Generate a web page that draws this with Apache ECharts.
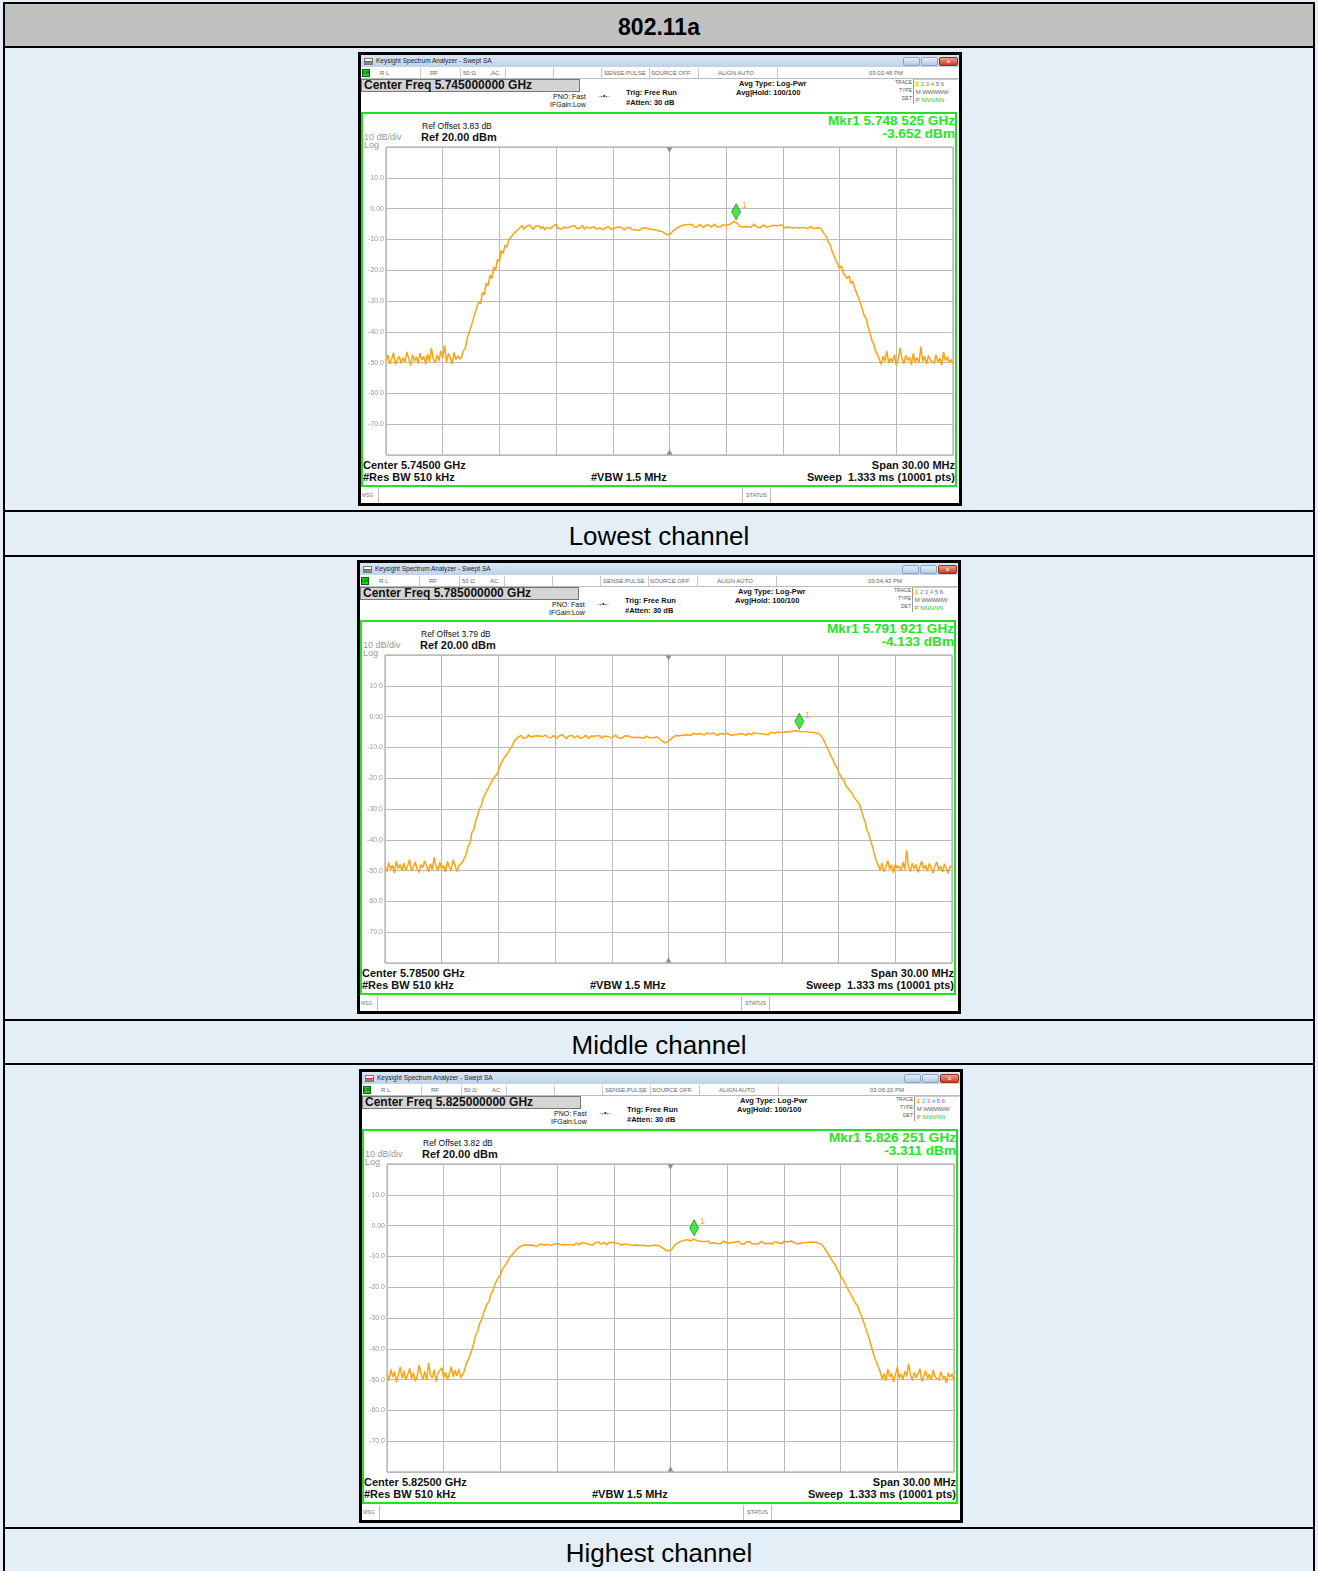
<!DOCTYPE html>
<html><head><meta charset="utf-8">
<script src="https://cdn.jsdelivr.net/npm/echarts@6/dist/echarts.min.js"></script>
<style>
html,body{margin:0;padding:0;}
body{width:1318px;height:1571px;position:relative;overflow:hidden;background:#e3eef6;font-family:"Liberation Sans",Arial,sans-serif;color:#000;}
.a{position:absolute;white-space:nowrap;box-sizing:border-box;}
</style></head><body>
<script>
// ---------------- data ----------------
const headerTitle = '802.11a';
const captions = ['Lowest channel', 'Middle channel', 'Highest channel'];
const centerFreqText = ['5.745000000', '5.785000000', '5.825000000'];
const centerShortText = ['5.74500', '5.78500', '5.82500'];
const clockText = ['03:02:48 PM', '03:04:43 PM', '03:06:20 PM'];
const refOffsetText = ['3.83', '3.79', '3.82'];
const markerFreqText = ['5.748 525', '5.791 921', '5.826 251'];
const markerLevel = [-3.652, -4.133, -3.311];
const markerOffsetMHz = [3.525, 6.921, 1.251];
const SWEEP_START_MHZ = -15, SWEEP_STEP_MHZ = 0.1; // offset from center; 301 displayed sweep points

const traceLowest = [
-49.3,-47.6,-50.4,-48.9,-46.8,-50.7,-49.1,-47.9,-50.2,-48.4,
-49.8,-46.5,-48.7,-50.9,-47.4,-49.5,-48.1,-50.3,-46.9,-49.2,
-48.0,-50.6,-47.2,-49.7,-45.3,-48.8,-50.1,-47.5,-49.4,-46.2,
-48.6,-44.4,-49.9,-47.0,-48.3,-50.5,-46.7,-49.0,-47.8,-48.9,
-48.2,-46.1,-45.3,-42.0,-41.6,-38.4,-37.9,-34.1,-33.5,-30.2,
-30.9,-27.3,-28.0,-24.2,-25.1,-21.6,-22.8,-19.0,-19.9,-16.4,
-17.2,-13.6,-14.5,-11.8,-12.6,-10.1,-10.7,-8.6,-9.1,-7.2,-6.9,
-6.2,-5.5,-6.7,-5.9,-6.4,-5.3,-6.1,-6.8,-5.7,-6.3,
-5.6,-6.5,-5.8,-6.9,-6.0,-5.4,-6.6,-5.9,-6.2,-5.1,
-6.4,-5.8,-6.7,-6.0,-5.5,-6.3,-6.9,-5.7,-6.1,-5.6,
-6.5,-5.9,-6.2,-5.4,-6.8,-6.0,-5.7,-6.4,-6.1,-5.8,
-6.6,-6.0,-6.3,-5.7,-6.9,-6.2,-6.5,-5.9,-6.7,-6.1,
-6.4,-6.8,-6.0,-6.5,-6.2,-7.0,-6.3,-6.6,-6.1,-6.8,
-6.5,-6.9,-6.3,-7.1,-6.6,-6.2,-6.8,-6.4,-7.0,-6.7,
-6.5,-6.9,-6.6,-7.2,-6.8,
-7.4,-7.8,-8.3,-8.0,-8.5,-7.9,-7.2,-6.9,-6.3,-6.0,-5.6,-5.9,-5.3,-5.7,-5.2,
-5.8,-5.2,-6.0,-5.5,-5.9,-5.1,-5.7,-6.2,-5.4,-5.8,
-5.3,-6.1,-5.6,-5.0,-5.9,-5.4,-6.0,-5.2,-5.7,-5.5,
-5.9,-5.1,-5.6,-4.2,-3.9,-4.8,-5.7,-5.3,-6.0,-5.5,
-5.8,-5.2,-6.1,-5.6,-5.0,-5.9,-5.4,-6.2,-5.7,-5.3,
-6.0,-5.5,-5.8,-6.3,-5.4,-5.9,-5.6,-6.1,-5.2,-5.8,
-6.2,-5.7,-6.0,-5.5,-6.4,-5.8,-6.1,-5.6,-6.3,-5.9,
-6.1,-5.7,-6.4,-6.0,-5.8,-6.5,-6.1,-6.3,-6.6,
-6.4,-7.0,-8.3,-9.1,-10.9,-11.6,-13.8,-14.4,-16.7,-17.1,
-19.4,-18.6,-21.0,-20.5,-22.7,-21.9,-24.3,-23.6,-25.8,-26.4,
-28.9,-30.7,-32.5,-34.8,-35.6,-38.3,-40.1,-42.6,-43.9,-46.2,-47.5,
-48.8,-50.6,-47.9,-49.5,-46.3,-50.2,-48.5,-49.9,-47.4,-50.8,
-49.1,-45.2,-48.7,-50.4,-47.6,-49.3,-48.2,-50.7,-46.9,-49.8,
-48.4,-50.1,-44.8,-49.6,-48.0,-50.5,-47.7,-49.2,-48.9,-50.3,
-47.5,-49.7,-48.6,-50.9,-46.6,-49.4,-48.1,-50.0,-49.0,-50.4
];
const traceMiddle = [
-48.7,-50.3,-47.4,-49.6,-48.2,-50.8,-46.9,-49.3,-48.0,-50.1,
-47.6,-49.8,-48.5,-46.4,-50.2,-48.9,-47.2,-49.5,-50.6,-48.1,
-49.0,-46.8,-48.4,-50.4,-47.8,-49.7,-45.7,-48.6,-50.0,-47.3,
-49.4,-48.3,-50.5,-47.0,-48.8,-49.9,-46.6,-48.2,-50.3,-48.5,
-49.0,-47.3,-45.9,-44.6,-42.1,-41.0,-37.6,-36.8,-33.9,-32.2,
-29.8,-28.9,-26.4,-26.9,-24.0,-23.4,-21.7,-22.3,-19.6,-18.8,
-17.9,-15.7,-16.2,-13.4,-13.9,-11.8,-10.6,-9.9,-8.4,-7.6,-6.9,
-6.7,-6.1,-7.0,-6.4,-6.8,-5.9,-6.6,-7.2,-6.3,-6.9,
-6.2,-6.8,-6.5,-7.1,-6.0,-6.7,-6.4,-6.9,-6.1,-6.6,
-7.0,-6.3,-6.8,-5.9,-6.5,-7.2,-6.4,-6.7,-6.1,-6.9,
-6.6,-6.2,-7.0,-6.5,-6.8,-6.0,-6.6,-7.1,-6.3,-6.7,
-6.4,-6.9,-6.1,-6.6,-7.0,-6.3,-6.8,-6.5,-6.2,-6.9,
-6.6,-6.0,-6.7,-6.4,-7.1,-6.5,-6.2,-6.8,-6.3,-6.6,
-6.9,-6.4,-6.7,-6.1,-6.8,-6.5,-7.0,-6.3,-6.6,-6.9,
-6.5,-6.8,-7.0,-6.6,-7.2,
-7.6,-8.1,-8.6,-8.3,-8.0,-7.4,-6.9,-6.4,-6.1,-5.8,-6.2,-5.7,-6.0,-5.5,-5.9,
-5.6,-6.1,-5.4,-5.9,-5.7,-6.2,-5.5,-5.8,-6.0,-5.3,
-5.9,-5.6,-6.1,-5.4,-5.8,-6.2,-5.5,-5.9,-5.7,-6.0,
-5.4,-5.8,-6.1,-5.6,-5.9,-5.3,-5.7,-6.0,-5.5,-5.8,
-6.1,-5.4,-5.7,-5.9,-5.2,-5.8,-5.5,-6.0,-5.6,-5.3,
-5.7,-5.4,-5.9,-5.1,-5.6,-5.3,-5.8,-5.0,-5.5,-5.2,
-5.6,-4.9,-5.3,-5.0,-5.4,-4.7,-5.1,-4.6,-4.3,-4.9,
-5.2,-4.8,-5.4,-5.0,-5.5,-5.1,-5.6,-5.3,-5.8,
-5.7,-6.2,-7.4,-8.8,-10.1,-11.4,-12.9,-14.0,-15.6,-16.3,
-18.1,-18.7,-20.2,-20.9,-22.5,-22.0,-24.1,-24.8,-26.0,-25.6,
-27.7,-28.4,-30.1,-32.6,-34.0,-36.9,-38.2,-40.5,-42.3,-44.8,-46.9,
-48.3,-49.9,-47.5,-50.4,-48.8,-46.7,-49.6,-48.1,-50.7,-47.9,
-49.2,-48.5,-50.1,-47.3,-49.7,-43.4,-48.9,-50.3,-47.6,-49.4,
-48.0,-50.6,-48.7,-46.9,-49.5,-48.2,-50.2,-47.7,-49.1,-50.8,
-48.4,-47.2,-49.8,-48.6,-50.5,-47.8,-49.3,-50.9,-48.5,-49.0
];
const traceHighest = [
-48.0,-50.3,-46.7,-49.2,-47.4,-50.8,-48.5,-45.9,-49.6,-47.1,
-50.1,-48.3,-46.4,-49.7,-47.8,-50.5,-48.9,-45.2,-48.1,-49.9,
-47.3,-50.2,-44.6,-48.7,-49.4,-46.8,-50.6,-47.9,-48.4,-46.1,
-49.5,-47.6,-50.0,-48.2,-45.8,-49.1,-47.0,-48.8,-46.5,-49.3,
-48.5,-47.0,-44.6,-43.5,-41.9,-40.2,-38.1,-35.4,-34.3,-31.8,
-30.6,-28.5,-27.9,-25.4,-24.6,-22.1,-21.3,-19.2,-18.6,-16.7,
-16.0,-14.3,-13.8,-12.5,-11.3,-10.7,-9.6,-9.0,-8.2,-7.5,-7.0,
-6.6,-6.9,-6.2,-6.7,-6.4,-7.0,-6.3,-6.1,-6.8,-6.5,
-6.0,-6.6,-6.3,-6.8,-6.1,-5.9,-6.5,-6.2,-5.8,-6.4,
-6.0,-5.7,-6.3,-5.9,-6.2,-5.6,-6.1,-5.8,-6.4,-5.7,
-5.9,-6.2,-5.5,-6.0,-5.8,-5.4,-6.1,-5.7,-6.3,-5.6,
-5.9,-5.3,-6.0,-5.7,-5.5,-6.2,-5.8,-5.4,-6.0,-5.6,
-6.1,-5.7,-5.9,-6.3,-5.8,-6.0,-5.5,-6.2,-5.9,-6.4,
-6.0,-6.3,-5.8,-6.5,-6.1,-6.4,-6.0,-6.6,-6.2,-6.5,
-6.7,-6.3,-6.8,-6.6,-7.0,
-7.3,-7.8,-8.2,-8.6,-8.1,-7.4,-6.6,-5.9,-5.5,-5.2,-5.0,-4.8,-5.3,-4.6,-5.1,
-5.0,-4.3,-4.0,-4.9,-5.4,-5.1,-5.7,-5.2,-5.5,-5.0,
-5.8,-5.3,-5.6,-5.1,-5.9,-5.4,-5.7,-5.0,-5.5,-5.8,
-5.2,-5.6,-6.0,-5.4,-5.7,-5.1,-5.8,-5.5,-6.1,-5.3,
-5.7,-5.2,-5.9,-5.5,-6.0,-5.4,-5.8,-5.1,-5.6,-5.9,
-5.3,-5.7,-5.5,-6.0,-5.2,-5.8,-5.6,-5.4,-5.9,-5.1,
-5.6,-5.3,-5.8,-5.0,-5.5,-5.7,-5.2,-5.9,-5.4,-5.6,
-5.1,-5.5,-5.8,-5.3,-5.7,-5.4,-5.9,-5.6,-5.8,
-6.1,-6.9,-7.8,-8.4,-9.7,-10.3,-11.9,-12.6,-14.1,-14.9,
-16.4,-17.2,-18.3,-19.6,-20.8,-21.4,-23.0,-24.1,-25.3,-26.0,
-27.9,-29.2,-31.0,-32.8,-34.7,-36.5,-38.6,-40.8,-42.9,-44.3,-46.0,
-47.5,-49.8,-48.1,-50.4,-46.6,-49.2,-47.9,-50.7,-48.4,-46.0,
-49.5,-48.2,-50.1,-47.3,-49.0,-44.9,-48.6,-50.3,-47.7,-49.4,
-48.0,-46.4,-50.6,-48.8,-47.1,-49.7,-48.3,-50.0,-46.9,-49.1,
-48.5,-50.2,-47.4,-49.6,-48.9,-51.0,-47.8,-49.3,-48.2,-50.5
];
const traces = [traceLowest, traceMiddle, traceHighest];

// ---------------- layout ----------------
function box(parent, x, y, w, h, css, text) {
  const d = document.createElement('div');
  d.className = 'a';
  d.style.left = x + 'px'; d.style.top = y + 'px';
  if (w != null) d.style.width = w + 'px';
  if (h != null) d.style.height = h + 'px';
  if (css) d.style.cssText += css;
  if (text != null) d.textContent = text;
  parent.appendChild(d);
  return d;
}
const B = document.body;
// table
box(B, 3, 2, 1312, 46, 'background:#c0c0c0;border:2px solid #000;font-weight:bold;font-size:23px;text-align:center;line-height:47px;', headerTitle);
box(B, 3, 47, 2, 1530, 'background:#000;');
box(B, 1313, 47, 2, 1530, 'background:#000;');
[510, 555, 1019, 1063, 1527].forEach(y => box(B, 3, y, 1312, 2, 'background:#000;'));
const capTops = [512, 1021, 1529];
captions.forEach((c, i) => box(B, 5, capTops[i], 1308, 44, 'text-align:center;font-size:26px;line-height:48px;', c));

const origins = [[358, 52], [357, 560], [359, 1069]];
const S = 'font-family:"Liberation Sans",Arial,sans-serif;';

function buildPanel(i) {
  const [ox, oy] = origins[i];
  const P = box(B, ox, oy, 604, 454, 'background:#fff;overflow:hidden;');
  // title bar
  box(P, 3, 3, 598, 12, 'background:linear-gradient(#dbe6f3,#bfd2e8);');
  box(P, 6, 6, 9, 7, 'background:linear-gradient(#fff 0,#fff 40%,#d33 40%,#d33 70%,#888 70%);border:1px solid #777;');
  box(P, 18, 3, 300, 12, S + 'font-size:6.5px;line-height:12px;color:#223;', 'Keysight Spectrum Analyzer - Swept SA');
  box(P, 545, 5, 17, 9, 'background:linear-gradient(#e6eef8,#b7c9e2);border:1px solid #8ea3c2;border-radius:2px;');
  box(P, 563, 5, 17, 9, 'background:linear-gradient(#e6eef8,#b7c9e2);border:1px solid #8ea3c2;border-radius:2px;');
  box(P, 581, 5, 19, 9, 'background:linear-gradient(#eea08a,#c83a22);border:1px solid #8a3020;border-radius:2px;color:#fff;font-size:7px;line-height:7px;text-align:center;', '×');
  // status row
  box(P, 3, 15, 598, 12, 'background:#fff;border-bottom:1px solid #bbb;');
  box(P, 4, 17, 8, 8, 'background:#1fd21f;border:1px solid #060;font-size:4px;line-height:6px;text-align:center;', 'LXI');
  [62, 102, 147, 195, 243, 291, 340, 419].forEach(x => box(P, x, 16, 1, 10, 'background:#c8c8c8;'));
  const st = S + 'font-size:6px;line-height:10px;color:#666;';
  [[22, 'R L'], [72, 'RF'], [105, '50 Ω'], [133, 'AC'], [246, 'SENSE:PULSE'], [293, 'SOURCE OFF'], [360, 'ALIGN AUTO'], [511, clockText[i]]]
    .forEach(([x, t]) => box(P, x, 16, null, 10, st, t));
  // center freq box
  box(P, 3, 27, 219, 13, 'background:#d4d4d4;border:1px solid #777;' + S + 'font-weight:bold;font-size:12px;line-height:11px;padding-left:2px;color:#111;', 'Center Freq ' + centerFreqText[i] + ' GHz');
  const sm = S + 'font-size:7px;line-height:8px;color:#111;';
  box(P, 195, 41, null, 8, sm, 'PNO: Fast');
  box(P, 192, 49, null, 8, sm, 'IFGain:Low');
  box(P, 239, 40, null, 8, sm + 'letter-spacing:-1px;', '→•←');
  const smb = S + 'font-size:7.5px;line-height:9px;font-weight:bold;color:#111;';
  box(P, 268, 36, null, 9, smb, 'Trig: Free Run');
  box(P, 268, 46, null, 9, smb, '#Atten: 30 dB');
  box(P, 381, 27, null, 9, smb, 'Avg Type: Log-Pwr');
  box(P, 378, 36, null, 9, smb, 'Avg|Hold: 100/100');
  const tr = S + 'font-size:5px;line-height:8px;color:#555;text-align:right;';
  box(P, 520, 26, 34, 8, tr, 'TRACE');
  box(P, 520, 34, 34, 8, tr, 'TYPE');
  box(P, 520, 42, 34, 8, tr, 'DET');
  const tb = box(P, 555, 27, 45, 25, 'border-left:1px solid #999;border-top:1px solid #ccc;' + S + 'font-size:6px;line-height:8px;');
  tb.innerHTML = '<span style="background:#fff6a0;color:#f39a00">&nbsp;1</span> <span style="color:#00c0d0">2</span> <span style="color:#e040e0">3</span> <span style="color:#30c030">4</span> <span style="color:#4a6bff">5</span> <span style="color:#a040f0">6</span><br>' +
    '<span style="color:#666">&nbsp;M <span style="letter-spacing:-0.5px">WWWWW</span></span><br><span style="color:#777">&nbsp;P</span> <span style="color:#22c022;letter-spacing:0.3px">NNNNN</span>';
  // green frame
  box(P, 3, 60, 596, 375, 'border:2px solid #22e022;');
  box(P, 64, 69, null, 10, S + 'font-size:8.5px;line-height:10px;color:#111;', 'Ref Offset ' + refOffsetText[i] + ' dB');
  box(P, 63, 79, null, 12, S + 'font-size:11px;line-height:12px;font-weight:bold;color:#111;', 'Ref 20.00 dBm');
  box(P, 6, 80, null, 10, S + 'font-size:9px;line-height:10px;color:#999;', '10 dB/div');
  box(P, 6, 88, null, 10, S + 'font-size:9px;line-height:10px;color:#999;', 'Log');
  const mk = S + 'font-size:13.6px;line-height:13px;font-weight:bold;color:#22e622;text-align:right;';
  box(P, 360, 62, 237, 13, mk, 'Mkr1 ' + markerFreqText[i] + ' GHz');
  box(P, 360, 75, 237, 13, mk, markerLevel[i].toFixed(3) + ' dBm');
  // bottom annotations
  const bt = S + 'font-size:11px;line-height:12px;font-weight:bold;color:#111;';
  box(P, 5, 407, null, 12, bt, 'Center ' + centerShortText[i] + ' GHz');
  box(P, 5, 419, null, 12, bt, '#Res BW 510 kHz');
  box(P, 233, 419, null, 12, bt, '#VBW 1.5 MHz');
  box(P, 380, 407, 217, 12, bt + 'text-align:right;', 'Span 30.00 MHz');
  box(P, 380, 419, 217, 12, bt + 'text-align:right;white-space:pre;', 'Sweep  1.333 ms (10001 pts)');
  // msg bar
  box(P, 3, 435, 598, 16, 'background:#fff;');
  box(P, 3, 436, 18, 15, 'border-right:1px solid #bbb;' + S + 'font-size:5px;line-height:15px;color:#777;padding-left:1px;', 'MSG');
  box(P, 384, 436, 29, 15, 'border-left:1px solid #bbb;border-right:1px solid #bbb;' + S + 'font-size:5.5px;line-height:15px;color:#666;text-align:center;', 'STATUS');
  // chart
  const cd = box(P, 6, 88, 594, 322, 'z-index:2;');
  // outer black frame
  box(P, 0, 0, 604, 454, 'border:3px solid #000;z-index:5;pointer-events:none;');
  return cd;
}

function makeOption(trace, mkX, mkY) {
  const pts = trace.map((v, k) => [SWEEP_START_MHZ + k * SWEEP_STEP_MHZ, v]);
  const gridLine = { show: true, lineStyle: { color: '#bababa', width: 1 } };
  return {
    animation: false,
    grid: { left: 22, top: 7, width: 567, height: 308, show: true, borderColor: '#9c9c9c', borderWidth: 1, backgroundColor: 'transparent' },
    xAxis: { type: 'value', min: -15, max: 15, interval: 3, axisLine: { show: false }, axisTick: { show: false }, axisLabel: { show: false }, splitLine: gridLine },
    yAxis: {
      type: 'value', min: -80, max: 20, interval: 10,
      axisLine: { show: false }, axisTick: { show: false }, splitLine: gridLine,
      axisLabel: { show: true, showMinLabel: false, showMaxLabel: false, margin: 2, color: '#9a9a9a', fontSize: 7, fontFamily: 'Liberation Sans',
        formatter: v => (v === 0 ? '0.00' : v.toFixed(1)) }
    },
    series: [
      { type: 'line', data: pts, symbol: 'none', showSymbol: false, lineStyle: { color: '#ffa20f', width: 1.5 }, z: 3, silent: true },
      { type: 'scatter', data: [[mkX, mkY]], symbol: 'diamond', symbolSize: [9, 16], symbolOffset: [0, -8],
        itemStyle: { color: '#16e016', borderColor: '#1b7a1b', borderWidth: 0.8 },
        label: { show: true, formatter: '1', position: 'right', distance: 1, offset: [0, -6], color: '#ff9d00', fontSize: 9, fontFamily: 'Liberation Sans' },
        z: 5, silent: true },
      { type: 'scatter', symbol: 'triangle', symbolSize: [6, 5], itemStyle: { color: '#7a7a7a' }, z: 4, silent: true,
        data: [{ value: [0, 20], symbolRotate: 180, symbolOffset: [0, 3] }, { value: [0, -80], symbolOffset: [0, -3] }] }
    ]
  };
}

for (let i = 0; i < 3; i++) {
  const cd = buildPanel(i);
  const ch = echarts.init(cd, null, { renderer: 'canvas' });
  ch.setOption(makeOption(traces[i], markerOffsetMHz[i], markerLevel[i]));
}
</script>
</body></html>
